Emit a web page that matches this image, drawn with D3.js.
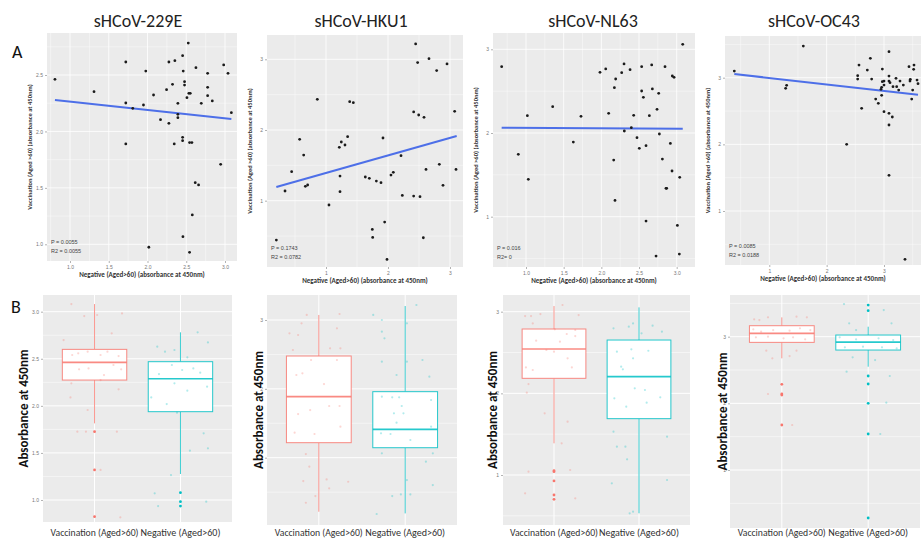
<!DOCTYPE html>
<html>
<head>
<meta charset="utf-8">
<script src="https://cdn.jsdelivr.net/npm/d3@7/dist/d3.min.js"></script>
<style>
  body { margin: 0; background: #fff; }
  svg { display: block; }
</style>
</head>
<body>
<svg id="chart" width="921" height="540"></svg>
<script>
'use strict';

// virus panels, left to right
var virusNames = ['sHCoV-229E', 'sHCoV-HKU1', 'sHCoV-NL63', 'sHCoV-OC43'];
var groupNames = ['Vaccination (Aged>60)', 'Negative (Aged>60)'];

// A: scatter, x = negative, y = vaccination
var scatter229E = [[0.806,2.462],[1.310,2.352],[1.720,2.615],[1.720,2.252],[1.720,1.889],[1.810,2.205],[1.948,2.234],[1.978,2.535],[2.017,0.974],[2.078,2.323],[2.168,2.104],[2.246,2.370],[2.276,2.615],[2.276,2.072],[2.323,2.417],[2.353,2.627],[2.345,1.889],[2.392,2.249],[2.392,2.152],[2.392,2.122],[2.453,2.671],[2.461,2.535],[2.478,2.441],[2.478,2.411],[2.453,1.948],[2.453,1.918],[2.457,1.068],[2.526,2.783],[2.509,2.299],[2.534,2.338],[2.552,2.338],[2.543,1.901],[2.573,1.901],[2.543,0.929],[2.578,1.260],[2.625,2.565],[2.616,1.546],[2.659,1.526],[2.694,2.249],[2.776,2.515],[2.776,2.391],[2.776,2.317],[2.836,2.270],[2.944,1.709],[2.983,2.589],[3.039,2.515],[3.082,2.166]];
var scatterHKU1 = [[0.199,0.443],[0.339,1.137],[0.446,1.410],[0.575,1.868],[0.640,1.646],[0.667,1.203],[0.704,1.222],[0.860,2.434],[1.048,0.939],[1.215,1.755],[1.226,1.349],[1.226,1.127],[1.247,1.830],[1.306,1.788],[1.349,1.906],[1.382,2.401],[1.441,2.387],[1.634,1.335],[1.699,1.316],[1.747,0.594],[1.753,0.481],[1.812,1.278],[1.887,1.255],[1.919,1.887],[1.946,0.698],[1.984,0.170],[2.048,1.363],[2.086,1.401],[2.210,1.637],[2.231,1.075],[2.414,2.255],[2.414,1.066],[2.446,3.217],[2.478,2.953],[2.495,2.212],[2.516,1.057],[2.570,0.476],[2.581,2.179],[2.613,1.443],[2.661,3.009],[2.785,2.840],[2.828,1.514],[2.887,1.217],[2.952,2.934],[3.075,2.264],[3.097,1.443]];
var scatterNL63 = [[0.677,2.793],[0.898,1.745],[1.018,2.207],[1.031,1.446],[1.354,2.315],[1.628,1.892],[1.730,2.199],[1.982,2.725],[2.058,2.765],[2.097,2.235],[2.164,1.677],[2.173,2.542],[2.181,1.195],[2.190,2.645],[2.270,2.721],[2.301,2.825],[2.305,2.024],[2.381,2.757],[2.398,2.064],[2.429,2.211],[2.473,1.944],[2.504,1.817],[2.535,2.793],[2.535,2.502],[2.558,2.426],[2.593,1.849],[2.593,0.948],[2.637,2.207],[2.668,2.813],[2.677,2.526],[2.726,0.530],[2.739,2.283],[2.761,2.474],[2.770,1.988],[2.810,1.689],[2.845,2.793],[2.858,1.339],[2.867,1.339],[2.916,1.876],[2.938,1.546],[2.942,2.681],[2.965,2.665],[3.009,0.896],[3.040,1.470],[3.035,0.554],[3.080,3.060]];
var scatterOC43 = [[0.390,3.100],[1.285,2.840],[1.302,2.885],[1.593,3.475],[2.349,2.000],[2.541,3.030],[2.541,2.980],[2.564,3.190],[2.610,2.540],[2.709,3.115],[2.762,3.290],[2.785,2.980],[2.855,2.680],[2.901,2.615],[2.948,2.825],[2.959,2.855],[2.971,2.940],[2.971,3.130],[2.959,2.735],[3.000,2.490],[3.000,2.950],[3.000,2.890],[3.087,3.390],[3.087,3.025],[3.087,2.950],[3.087,2.465],[3.087,2.290],[3.087,1.535],[3.105,2.925],[3.145,2.410],[3.157,2.865],[3.209,2.990],[3.256,2.815],[3.279,2.950],[3.337,2.890],[3.366,0.275],[3.436,3.165],[3.453,2.950],[3.483,2.680],[3.500,2.815],[3.517,3.125],[3.523,3.190],[3.459,2.975],[3.576,2.965],[3.593,2.910],[3.221,2.865]];

// fitted lines: [[x0, y0], [x1, y1]]
var fit229E = [[0.806,2.279],[3.082,2.110]];
var fitHKU1 = [[0.199,1.193],[3.108,1.915]];
var fitNL63 = [[0.677,2.064],[3.080,2.052]];
var fitOC43 = [[0.390,3.055],[3.593,2.745]];

var statLabels = [
  ['P = 0.0055', 'R2 = 0.0055'],
  ['P = 0.1743', 'R2 = 0.0782'],
  ['P = 0.016', 'R2= 0'],
  ['P = 0.0085', 'R2 = 0.0188']
];

var xTicksA = [[1.0,1.5,2.0,2.5,3.0],[1,2,3],[1.0,1.5,2.0,2.5,3.0],[1,2,3]];
var yTicksA = [[1.0,1.5,2.0,2.5],[1,2,3],[1,2,3],[1,2,3]];
var yTicksB = [[1.0,1.5,2.0,2.5,3.0],[1,2,3],[1,2,3],[1,2,3]];

// B: boxplots, [lower whisker, q1, median, q3, upper whisker]
var box229E = [[1.814,2.274,2.462,2.600,3.081],[1.276,1.938,2.288,2.469,2.781]];
var boxHKU1 = [[0.215,1.218,1.886,2.477,3.073],[0.191,1.145,1.412,1.959,3.203]];
var boxNL63 = [[1.388,2.184,2.543,2.788,3.069],[0.531,1.690,2.204,2.653,3.053]];
var boxOC43 = [[2.675,2.915,3.050,3.165,3.290],[2.550,2.800,2.920,3.025,3.150]];

var outliers229E = [[1.726,1.319,0.823],[1.078,0.982,0.936]];
var outliersHKU1 = [[],[]];
var outliersNL63 = [[1.053,1.041,0.927,0.755,0.702],[]];
var outliersOC43 = [[2.285,2.140,2.125,1.675],[3.475,3.390,2.410,2.290,2.000,1.540,0.280]];

// jittered raw values: [offset in category units, absorbance]
var jitter229E = [
  [[-0.27,3.081],[-0.12,2.954],[0.03,2.965],[0.20,2.770],[0.32,2.982],[-0.36,2.699],[-0.26,2.540],[-0.19,2.558],[-0.08,2.575],[0.07,2.540],[0.15,2.575],[0.28,2.529],[-0.18,2.388],[-0.07,2.398],[0.11,2.327],[0.22,2.434],[0.31,2.388],[-0.27,2.239],[0.28,2.175],[-0.28,2.090],[-0.08,1.956],[-0.20,1.726],[-0.10,1.726],[0.26,1.726],[0.07,1.319],[0.30,0.816],[0.07,2.274]],
  [[-0.27,2.628],[-0.18,2.575],[-0.07,2.593],[0.08,2.515],[0.20,2.781],[0.32,2.674],[-0.10,2.434],[0.02,2.381],[0.15,2.398],[0.23,2.352],[-0.25,2.338],[-0.07,2.239],[0.08,2.161],[0.31,2.204],[-0.34,2.090],[-0.16,2.019],[0.27,1.708],[0.11,1.524],[0.32,1.549],[-0.11,1.265],[-0.30,1.071],[-0.26,0.936],[0.30,0.982],[-0.04,1.927]]
];
var jitterHKU1 = [
  [[-0.14,3.073],[0.24,3.087],[-0.34,2.806],[-0.20,2.952],[-0.24,2.782],[0.21,2.879],[-0.30,2.564],[0.13,2.588],[0.25,2.588],[-0.09,2.419],[0.21,2.419],[-0.26,2.201],[-0.19,2.225],[0.06,2.070],[0.12,1.751],[0.24,1.751],[-0.10,1.692],[-0.24,1.634],[0.25,1.450],[-0.28,1.363],[-0.05,1.344],[-0.15,1.053],[-0.11,0.869],[-0.18,0.661],[0.09,0.685],[0.12,0.555],[0.34,0.651],[-0.15,0.346],[-0.04,0.443]],
  [[-0.37,3.073],[0.13,3.218],[-0.27,3.000],[0.02,2.952],[-0.27,2.831],[-0.24,2.734],[-0.27,2.395],[0.02,2.395],[0.20,2.419],[-0.10,2.201],[0.28,2.177],[-0.27,1.886],[-0.15,1.877],[-0.07,1.877],[-0.04,1.751],[0.30,1.838],[-0.13,1.644],[-0.02,1.644],[-0.10,1.508],[-0.28,1.354],[-0.17,1.344],[0.06,1.257],[0.30,1.450],[-0.27,1.063],[0.32,1.063],[0.24,0.942],[0.02,0.675],[-0.05,0.467],[0.06,0.467],[0.32,0.603],[-0.33,0.182],[-0.15,0.443]]
];
var jitterNL63 = [
  [[-0.34,2.947],[-0.27,2.947],[-0.16,2.971],[0.10,3.082],[0.29,2.959],[-0.25,2.857],[0.01,2.784],[0.15,2.727],[0.25,2.776],[-0.21,2.645],[0.07,2.633],[0.25,2.702],[-0.09,2.531],[0.00,2.510],[0.16,2.429],[-0.33,2.318],[-0.25,2.286],[0.21,2.318],[-0.30,2.114],[-0.32,2.008],[-0.11,1.755],[0.16,1.653],[0.09,1.388],[-0.30,1.041],[0.19,1.061],[-0.34,0.776],[0.25,0.714]],
  [[-0.30,2.796],[-0.12,2.816],[-0.07,2.857],[0.16,2.829],[0.27,2.755],[0.03,2.735],[-0.26,2.510],[-0.09,2.539],[0.11,2.522],[-0.21,2.327],[-0.19,2.294],[-0.07,2.429],[-0.29,1.939],[-0.15,1.837],[0.07,2.041],[-0.05,2.061],[0.09,1.886],[0.25,1.951],[-0.30,1.531],[-0.26,1.347],[-0.16,1.347],[-0.14,1.192],[0.33,1.469],[-0.32,0.898],[0.33,0.939],[-0.11,0.531],[-0.07,0.551]]
];
var jitterOC43 = [
  [[-0.32,3.260],[-0.26,3.250],[-0.16,3.290],[0.17,3.300],[0.29,3.290],[-0.33,3.110],[-0.24,3.075],[-0.10,3.100],[0.09,3.090],[0.21,3.125],[0.33,3.100],[-0.30,2.990],[-0.16,3.000],[0.02,2.975],[0.13,2.990],[0.27,2.960],[-0.18,2.790],[0.17,2.790],[-0.11,2.675],[0.09,2.710],[-0.16,2.140],[0.12,1.675]],
  [[-0.28,3.490],[0.18,3.400],[-0.22,3.200],[-0.14,3.100],[0.27,3.200],[-0.33,2.990],[-0.14,2.960],[0.12,2.975],[0.29,2.950],[-0.27,2.840],[-0.06,2.850],[0.16,2.840],[0.33,2.825],[-0.18,2.690],[0.08,2.650],[-0.25,2.475],[0.25,2.410],[0.14,1.540],[0.21,2.010]]
];

var scatterSets = [scatter229E, scatterHKU1, scatterNL63, scatterOC43];
var fitSets = [fit229E, fitHKU1, fitNL63, fitOC43];
var boxSets = [box229E, boxHKU1, boxNL63, boxOC43];
var outlierSets = [outliers229E, outliersHKU1, outliersNL63, outliersOC43];
var jitterSets = [jitter229E, jitterHKU1, jitterNL63, jitterOC43];

var groupColors = ['#F8766D', '#00BFC4'];
var panelBg = '#EBEBEB';
var textFont = 'Carlito, Lato, "Open Sans", sans-serif';

// layout of the pasted panels (pixels)
var layoutA = [
  { left: 47,  right: 237, top: 33, bottom: 261, xRange: [70, 225],    yRange: [244.3, 75],  yDom: [1.0, 2.5], titleX: 138 },
  { left: 267, right: 463, top: 35, bottom: 267, xRange: [326, 450],   yRange: [200.7, 59.3], yDom: [1, 3],   titleX: 361 },
  { left: 493, right: 695, top: 33, bottom: 267, xRange: [526, 676.7], yRange: [216.7, 49.3], yDom: [1, 3],   titleX: 593 },
  { left: 725, right: 921, top: 36, bottom: 265, xRange: [769.3, 884], yRange: [211, 77.7],  yDom: [1, 3],   titleX: 814 }
];
var layoutB = [
  { left: 43,  right: 232, top: 295, bottom: 522, yRange: [500, 311.7], yDom: [1, 3], labelX: 23 },
  { left: 267, right: 457, top: 295, bottom: 525, yRange: [457.7, 320], yDom: [1, 3], labelX: 258 },
  { left: 503, right: 690, top: 295, bottom: 525, yRange: [475, 311.7], yDom: [1, 3], labelX: 492 },
  { left: 730, right: 920, top: 295, bottom: 528, yRange: [470, 336.7], yDom: [1, 3], labelX: 722 }
];
var catLabelWidths = [88, 80];

var svg = d3.select('#chart');

function gridValues(ticks, scale, a, b) {
  var step = ticks[1] - ticks[0];
  var lo = Math.min(scale.invert(a), scale.invert(b));
  var hi = Math.max(scale.invert(a), scale.invert(b));
  var major = [], minor = [];
  for (var k = -20; k <= 40; k++) {
    var v = ticks[0] + k * step / 2;
    if (v < lo || v > hi) continue;
    if (k % 2 === 0) major.push(v); else minor.push(v);
  }
  return { major: major, minor: minor };
}

function tickFormat(ticks) {
  var step = ticks[1] - ticks[0];
  return step < 1 ? d3.format('.1f') : d3.format('d');
}

function styleAxis(g, size) {
  g.select('.domain').remove();
  g.selectAll('.tick line').attr('stroke', '#666').attr('stroke-width', 0.5);
  g.selectAll('.tick text')
    .attr('fill', '#777')
    .attr('font-size', size)
    .attr('font-family', 'Liberation Sans, sans-serif');
}

function drawScatter(i) {
  var p = layoutA[i];
  var x = d3.scaleLinear().domain([1, 3]).range(p.xRange);
  var y = d3.scaleLinear().domain(p.yDom).range(p.yRange);
  var g = svg.append('g');

  g.append('rect')
    .attr('x', p.left).attr('y', p.top)
    .attr('width', p.right - p.left).attr('height', p.bottom - p.top)
    .attr('fill', panelBg);

  var gx = gridValues(xTicksA[i], x, p.left, p.right);
  var gy = gridValues(yTicksA[i], y, p.top, p.bottom);

  g.selectAll('.vminor').data(gx.minor).enter().append('line')
    .attr('x1', x).attr('x2', x).attr('y1', p.top).attr('y2', p.bottom)
    .attr('stroke', '#fff').attr('stroke-width', 0.4);
  g.selectAll('.hminor').data(gy.minor).enter().append('line')
    .attr('y1', y).attr('y2', y).attr('x1', p.left).attr('x2', p.right)
    .attr('stroke', '#fff').attr('stroke-width', 0.4);
  g.selectAll('.vmajor').data(gx.major).enter().append('line')
    .attr('x1', x).attr('x2', x).attr('y1', p.top).attr('y2', p.bottom)
    .attr('stroke', '#fff').attr('stroke-width', 0.8);
  g.selectAll('.hmajor').data(gy.major).enter().append('line')
    .attr('y1', y).attr('y2', y).attr('x1', p.left).attr('x2', p.right)
    .attr('stroke', '#fff').attr('stroke-width', 0.8);

  var ax = g.append('g')
    .attr('transform', 'translate(0,' + p.bottom + ')')
    .call(d3.axisBottom(x).tickValues(xTicksA[i]).tickSize(2).tickPadding(2)
      .tickFormat(tickFormat(xTicksA[i])));
  styleAxis(ax, 5);

  var ay = g.append('g')
    .attr('transform', 'translate(' + p.left + ',0)')
    .call(d3.axisLeft(y).tickValues(yTicksA[i]).tickSize(2).tickPadding(2)
      .tickFormat(tickFormat(yTicksA[i])));
  styleAxis(ay, 5);

  var fit = fitSets[i];
  g.append('line')
    .attr('x1', x(fit[0][0])).attr('y1', y(fit[0][1]))
    .attr('x2', x(fit[1][0])).attr('y2', y(fit[1][1]))
    .attr('stroke', '#4D6FE8').attr('stroke-width', 2);

  g.selectAll('.pt').data(scatterSets[i]).enter().append('circle')
    .attr('cx', function (d) { return x(d[0]); })
    .attr('cy', function (d) { return y(d[1]); })
    .attr('r', 1.4)
    .attr('fill', '#1a1a1a');

  g.selectAll('.stat').data(statLabels[i]).enter().append('text')
    .attr('x', p.left + 4)
    .attr('y', function (d, k) { return p.bottom - 17 + k * 9; })
    .attr('font-size', 5.5)
    .attr('font-family', 'Liberation Sans, sans-serif')
    .attr('fill', '#444')
    .text(function (d) { return d; });

  var cx = (p.left + p.right) / 2;
  g.append('text')
    .attr('x', cx).attr('y', p.bottom + 16)
    .attr('text-anchor', 'middle')
    .attr('font-size', 7).attr('font-weight', 'bold')
    .attr('font-family', textFont).attr('fill', '#333')
    .text('Negative (Aged>60) (absorbance at 450nm)');

  var cy = (p.top + p.bottom) / 2;
  g.append('text')
    .attr('transform', 'translate(' + (p.left - 15) + ',' + cy + ') rotate(-90)')
    .attr('text-anchor', 'middle')
    .attr('font-size', 6.5).attr('font-weight', 'bold')
    .attr('font-family', textFont).attr('fill', '#333')
    .text('Vaccination (Aged >60) (absorbance at 450nm)');

  svg.append('text')
    .attr('x', p.titleX).attr('y', 27)
    .attr('text-anchor', 'middle')
    .attr('font-size', 18)
    .attr('font-family', textFont).attr('fill', '#222')
    .text(virusNames[i]);
}

function drawBoxes(i) {
  var p = layoutB[i];
  var x = d3.scalePoint().domain(groupNames).range([p.left, p.right]).padding(0.6);
  var y = d3.scaleLinear().domain(p.yDom).range(p.yRange);
  var boxW = x.step() * 0.75;
  var g = svg.append('g');

  g.append('rect')
    .attr('x', p.left).attr('y', p.top)
    .attr('width', p.right - p.left).attr('height', p.bottom - p.top)
    .attr('fill', panelBg);

  var gy = gridValues(yTicksB[i], y, p.top, p.bottom);
  g.selectAll('.hminor').data(gy.minor).enter().append('line')
    .attr('y1', y).attr('y2', y).attr('x1', p.left).attr('x2', p.right)
    .attr('stroke', '#fff').attr('stroke-width', 0.5);
  g.selectAll('.hmajor').data(gy.major).enter().append('line')
    .attr('y1', y).attr('y2', y).attr('x1', p.left).attr('x2', p.right)
    .attr('stroke', '#fff').attr('stroke-width', 1);
  g.selectAll('.vmajor').data(groupNames).enter().append('line')
    .attr('x1', x).attr('x2', x).attr('y1', p.top).attr('y2', p.bottom)
    .attr('stroke', '#fff').attr('stroke-width', 1);

  var stats = boxSets[i];
  groupNames.forEach(function (name, k) {
    var s = stats[k];
    var cx = x(name);
    var col = groupColors[k];
    g.append('line')
      .attr('x1', cx).attr('x2', cx).attr('y1', y(s[0])).attr('y2', y(s[1]))
      .attr('stroke', col).attr('stroke-opacity', 0.85).attr('stroke-width', 0.9);
    g.append('line')
      .attr('x1', cx).attr('x2', cx).attr('y1', y(s[3])).attr('y2', y(s[4]))
      .attr('stroke', col).attr('stroke-opacity', 0.85).attr('stroke-width', 0.9);
    g.append('rect')
      .attr('x', cx - boxW / 2).attr('width', boxW)
      .attr('y', y(s[3])).attr('height', y(s[1]) - y(s[3]))
      .attr('fill', '#fff').attr('stroke', col).attr('stroke-opacity', 0.85)
      .attr('stroke-width', 1);
    g.append('line')
      .attr('x1', cx - boxW / 2).attr('x2', cx + boxW / 2)
      .attr('y1', y(s[2])).attr('y2', y(s[2]))
      .attr('stroke', col).attr('stroke-opacity', 0.85).attr('stroke-width', 1.7);
    g.selectAll('.out' + k).data(outlierSets[i][k]).enter().append('circle')
      .attr('cx', cx).attr('cy', y)
      .attr('r', 1.4).attr('fill', col);
    g.selectAll('.jit' + k).data(jitterSets[i][k]).enter().append('circle')
      .attr('cx', function (d) { return cx + d[0] * x.step(); })
      .attr('cy', function (d) { return y(d[1]); })
      .attr('r', 1.1).attr('fill', col).attr('opacity', 0.3);
  });

  var ay = g.append('g')
    .attr('transform', 'translate(' + p.left + ',0)')
    .call(d3.axisLeft(y).tickValues(yTicksB[i]).tickSize(2).tickPadding(2)
      .tickFormat(tickFormat(yTicksB[i])));
  styleAxis(ay, 5);

  g.selectAll('.cat').data(groupNames).enter().append('text')
    .attr('x', x).attr('y', 536)
    .attr('text-anchor', 'middle')
    .attr('font-size', 9.5)
    .attr('textLength', function (d, k) { return catLabelWidths[k]; })
    .attr('lengthAdjust', 'spacingAndGlyphs')
    .attr('font-family', textFont).attr('fill', '#333')
    .text(function (d) { return d; });

  g.append('text')
    .attr('transform', 'translate(' + p.labelX + ',' + ((p.top + p.bottom) / 2) + ') rotate(-90)')
    .attr('dy', '0.35em')
    .attr('text-anchor', 'middle')
    .attr('font-size', 13).attr('font-weight', 'bold')
    .attr('font-family', textFont).attr('fill', '#111')
    .text('Absorbance at 450nm');
}

for (var i = 0; i < 4; i++) {
  drawScatter(i);
  drawBoxes(i);
}

svg.append('text').attr('x', 12).attr('y', 58)
  .attr('font-size', 18).attr('font-family', textFont).attr('fill', '#111')
  .text('A');
svg.append('text').attr('x', 11).attr('y', 313)
  .attr('font-size', 18).attr('font-family', textFont).attr('fill', '#111')
  .text('B');
</script>
</body>
</html>
